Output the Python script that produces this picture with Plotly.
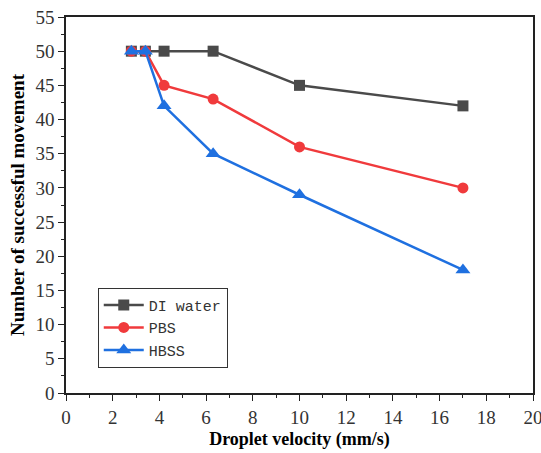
import plotly.graph_objects as go

velocity = [2.8, 3.4, 4.2, 6.3, 10, 17]
di_water = [50, 50, 50, 50, 45, 42]
pbs = [50, 50, 45, 43, 36, 30]
hbss = [50, 50, 42, 35, 29, 18]

series = [
    ("DI water", di_water, "#4a4a4a", "square"),
    ("PBS", pbs, "#f03a3c", "circle"),
    ("HBSS", hbss, "#1f70e0", "triangle-up"),
]

fig = go.Figure()
for name, vals, color, sym in series:
    fig.add_trace(go.Scatter(
        x=velocity, y=vals, name=name, mode="lines+markers",
        line=dict(color=color, width=2.5),
        marker=dict(symbol=sym, size=11 if sym != "triangle-up" else 13, color=color),
    ))

axis_common = dict(
    showline=True, linecolor="#222", linewidth=1.5, mirror=True,
    ticks="outside", ticklen=6, tickwidth=1.2, tickcolor="#222",
    showgrid=False, zeroline=False, automargin=False,
    ticklabeloverflow="allow",
    tickfont=dict(family="Liberation Serif, serif", size=19, color="#333"),
)

fig.update_layout(
    width=541, height=453,
    margin=dict(l=66, r=8, t=17, b=60),
    paper_bgcolor="white", plot_bgcolor="white",
    xaxis=dict(range=[0, 20], dtick=2,
               minor=dict(dtick=1, ticks="outside", ticklen=3, tickcolor="#222"),
               title=dict(text="<b>Droplet velocity (mm/s)</b>", standoff=6,
                          font=dict(family="Liberation Serif, serif", size=18, color="black")),
               **axis_common),
    yaxis=dict(range=[0, 55], dtick=5,
               minor=dict(dtick=2.5, ticks="outside", ticklen=3, tickcolor="#222"),
               title=dict(text="<b>Number of successful movement</b>", standoff=6,
                          font=dict(family="Liberation Serif, serif", size=19, color="black")),
               **axis_common),
    legend=dict(x=0.068, y=0.28, xanchor="left", yanchor="top",
                bordercolor="#333", borderwidth=1, bgcolor="white",
                font=dict(family="Liberation Mono, DejaVu Sans Mono, monospace", size=15, color="#333"),
                tracegroupgap=0, itemwidth=40),
    showlegend=True,
)

fig.write_html("out.html", config={"displayModeBar": False},
               post_script="document.body.style.margin='0';")
